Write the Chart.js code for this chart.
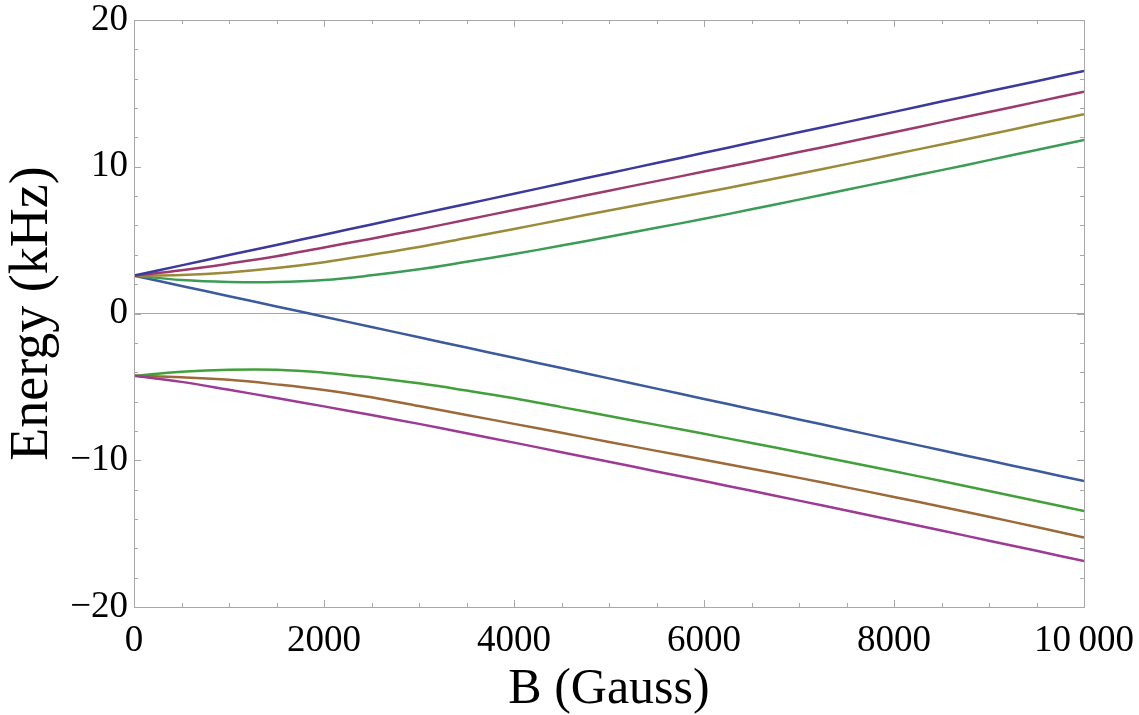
<!DOCTYPE html>
<html>
<head>
<meta charset="utf-8">
<script src="https://cdn.jsdelivr.net/npm/chart.js@4"></script>
<style>
  html, body { margin: 0; padding: 0; background: #fff; }
  canvas { display: block; }
</style>
</head>
<body>
<canvas id="chart" width="1139" height="715"></canvas>
<script>
// Campo magnetico (Gauss)
const campoB = [0, 500, 1000, 1500, 2000, 2500, 3000, 3500, 4000, 4500, 5000,
  5500, 6000, 6500, 7000, 7500, 8000, 8500, 9000, 9500, 10000];

// Energias (kHz)
const nivel1 = [2.58, 3.28, 3.98, 4.67, 5.37, 6.07, 6.77, 7.46, 8.16, 8.86, 9.56,
  10.25, 10.95, 11.65, 12.35, 13.04, 13.74, 14.44, 15.14, 15.83, 16.53];
const nivel2 = [2.58, 2.95, 3.4, 3.9, 4.5, 5.1, 5.73, 6.39, 7.05, 7.71, 8.37,
  9.02, 9.67, 10.33, 11.0, 11.67, 12.35, 13.04, 13.73, 14.42, 15.12];
const nivel3 = [2.58, 2.63, 2.8, 3.1, 3.5, 4.0, 4.53, 5.14, 5.76, 6.39, 7.02,
  7.63, 8.24, 8.88, 9.52, 10.18, 10.85, 11.52, 12.2, 12.89, 13.58];
const nivel4 = [2.58, 2.28, 2.15, 2.14, 2.28, 2.6, 3.01, 3.52, 4.05, 4.63, 5.23,
  5.84, 6.45, 7.1, 7.76, 8.43, 9.1, 9.77, 10.45, 11.14, 11.83];
const nivel5 = [2.58, 1.88, 1.18, 0.48, -0.22, -0.92, -1.62, -2.32, -3.02, -3.72, -4.42,
  -5.12, -5.82, -6.52, -7.22, -7.92, -8.62, -9.32, -10.02, -10.72, -11.42];
const nivel6 = [-4.24, -4.66, -5.2, -5.76, -6.33, -6.92, -7.52, -8.16, -8.8, -9.45, -10.1,
  -10.76, -11.42, -12.08, -12.75, -13.42, -14.1, -14.79, -15.48, -16.17, -16.87];
const nivel7 = [-4.24, -4.35, -4.52, -4.83, -5.21, -5.71, -6.31, -6.91, -7.52, -8.13, -8.75,
  -9.36, -9.97, -10.58, -11.2, -11.85, -12.5, -13.17, -13.85, -14.55, -15.26];
const nivel8 = [-4.24, -3.97, -3.83, -3.83, -4.03, -4.36, -4.76, -5.25, -5.78, -6.38, -6.98,
  -7.59, -8.2, -8.82, -9.45, -10.1, -10.75, -11.42, -12.1, -12.78, -13.46];

// Ticks
const ticksX = [0, 2000, 4000, 6000, 8000, 10000];
const ticksY = [-20, -10, 0, 10, 20];
const menoresX = [500, 1000, 1500, 2500, 3000, 3500, 4500, 5000, 5500, 6500, 7000, 7500, 8500, 9000, 9500];
const menoresY = [-18, -16, -14, -12, -8, -6, -4, -2, 2, 4, 6, 8, 12, 14, 16, 18];

// Colores
const colores = ['#3b3a9c', '#9c3a6e', '#9c8a38', '#3a9c55', '#3a5a9c', '#9c3a94', '#9c6a38', '#42a03a'];
const niveles = [nivel1, nivel2, nivel3, nivel4, nivel5, nivel6, nivel7, nivel8];

const gris = '#a8a8a8';
const fuente = "'Liberation Serif', 'Times New Roman', serif";

const datasets = niveles.map((serie, i) => ({
  data: serie.map((e, j) => ({ x: campoB[j], y: e })),
  borderColor: colores[i],
  borderWidth: 2.5,
  pointRadius: 0,
  tension: 0.4,
  fill: false
}));

// Marco con ticks hacia adentro (estilo Mathematica)
const marco = {
  id: 'marco',
  afterDatasetsDraw(chart) {
    const { ctx, chartArea: a, scales: { x, y } } = chart;
    ctx.save();
    ctx.strokeStyle = gris;
    ctx.lineWidth = 1;
    ctx.beginPath();
    const marca = (px, largo, vertical) => {
      if (vertical) {
        ctx.moveTo(px, a.bottom); ctx.lineTo(px, a.bottom - largo);
        ctx.moveTo(px, a.top); ctx.lineTo(px, a.top + largo);
      } else {
        ctx.moveTo(a.left, px); ctx.lineTo(a.left + largo, px);
        ctx.moveTo(a.right, px); ctx.lineTo(a.right - largo, px);
      }
    };
    ticksX.forEach(v => marca(Math.round(x.getPixelForValue(v)) + 0.5, 7, true));
    menoresX.forEach(v => marca(Math.round(x.getPixelForValue(v)) + 0.5, 4, true));
    ticksY.forEach(v => marca(Math.round(y.getPixelForValue(v)) + 0.5, 7, false));
    menoresY.forEach(v => marca(Math.round(y.getPixelForValue(v)) + 0.5, 4, false));
    ctx.stroke();
    ctx.strokeRect(Math.round(a.left) + 0.5, Math.round(a.top) + 0.5,
      Math.round(a.right - a.left), Math.round(a.bottom - a.top));
    ctx.restore();
  }
};

new Chart(document.getElementById('chart'), {
  type: 'line',
  data: { datasets },
  options: {
    responsive: false,
    animation: false,
    devicePixelRatio: 1,
    layout: { padding: { top: 20, right: 55, left: 0, bottom: 0 } },
    plugins: { legend: { display: false }, tooltip: { enabled: false } },
    scales: {
      x: {
        type: 'linear',
        min: 0,
        max: 10000,
        afterBuildTicks: s => { s.ticks = ticksX.map(v => ({ value: v })); },
        afterFit: s => { s.height = 108; s.paddingLeft = 0; s.paddingRight = 0; },
        grid: { display: false, drawTicks: false },
        border: { display: false },
        ticks: {
          color: '#000',
          padding: 12,
          maxRotation: 0,
          font: { family: fuente, size: 37 },
          callback: v => v === 10000 ? '10\u2009000' : String(v)
        },
        title: {
          display: true,
          text: 'B (Gauss)',
          color: '#000',
          font: { family: fuente, size: 50, lineHeight: 1.0 },
          padding: { top: 0, bottom: 0 }
        }
      },
      y: {
        type: 'linear',
        min: -20,
        max: 20,
        afterBuildTicks: s => { s.ticks = ticksY.map(v => ({ value: v })); },
        afterFit: s => { s.width = 134; s.paddingTop = 0; s.paddingBottom = 0; },
        grid: {
          drawTicks: false,
          color: c => c.tick && c.tick.value === 0 ? gris : 'rgba(0,0,0,0)',
          lineWidth: 1
        },
        border: { display: false },
        ticks: {
          color: '#000',
          padding: 6,
          font: { family: fuente, size: 37 },
          callback: v => v < 0 ? '\u2212' + Math.abs(v) : String(v)
        },
        title: {
          display: true,
          text: 'Energy (kHz)',
          color: '#000',
          font: { family: fuente, size: 54 },
          padding: { top: 0, bottom: 0 }
        }
      }
    }
  },
  plugins: [marco]
});
</script>
</body>
</html>
